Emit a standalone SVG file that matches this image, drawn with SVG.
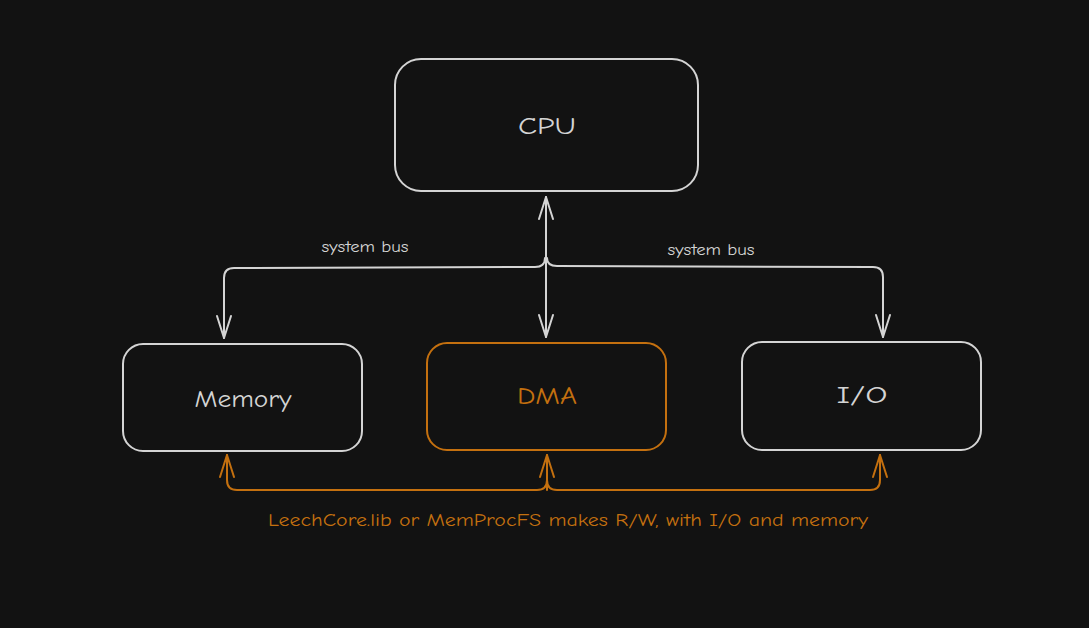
<svg xmlns="http://www.w3.org/2000/svg" width="1089" height="628" viewBox="0 0 1089 628">
<style>
.box{fill:none;stroke:#d4d4d4;stroke-width:2}
.obox{fill:none;stroke:#c4700f;stroke-width:2}
.lbl{font-family:"Comic Neue","Liberation Sans",sans-serif;fill:#d4d4d4;text-anchor:middle}
.olbl{font-family:"Comic Neue","Liberation Sans",sans-serif;fill:#c4700f;text-anchor:middle}
.wire{fill:none;stroke:#d4d4d4;stroke-width:2;stroke-linecap:round;stroke-linejoin:round}
.owire{fill:none;stroke:#c4700f;stroke-width:2;stroke-linecap:round;stroke-linejoin:round}
</style>
<defs>
<marker id="aw" viewBox="-24 -10 26 20" refX="0" refY="0" markerWidth="26" markerHeight="20" markerUnits="userSpaceOnUse" orient="auto-start-reverse">
<path d="M-22,-7 L0,0 L-22,7" fill="none" stroke="#d4d4d4" stroke-width="2" stroke-linecap="round" stroke-linejoin="round"/>
</marker>
<marker id="ao" viewBox="-24 -10 26 20" refX="0" refY="0" markerWidth="26" markerHeight="20" markerUnits="userSpaceOnUse" orient="auto-start-reverse">
<path d="M-22,-7 L0,0 L-22,7" fill="none" stroke="#c4700f" stroke-width="2" stroke-linecap="round" stroke-linejoin="round"/>
</marker>
</defs>
<rect width="1089" height="628" fill="#121212"/>
<g id="connectors">
<path class="wire" d="M546 197 L546 337" marker-start="url(#aw)" marker-end="url(#aw)"/>
<path class="wire" d="M545 258 Q545 267 535 267 L234 268 Q224 268 224 278 L224 338" marker-end="url(#aw)"/>
<path class="wire" d="M547 258 Q547 266 557 266 L873 267 Q883 267 883 277 L883 337" marker-end="url(#aw)"/>
<path class="owire" d="M227 455 L227 480 Q227 490 237 490 L537 490 Q547 490 547 480" marker-start="url(#ao)"/>
<path class="owire" d="M547 455 L547 490" marker-start="url(#ao)"/>
<path class="owire" d="M547 480 Q547 490 557 490 L870 490 Q880 490 880 480 L880 455" marker-end="url(#ao)"/>
<text class="lbl" x="365" y="252" font-size="15" textLength="87" lengthAdjust="spacingAndGlyphs">system bus</text>
<text class="lbl" x="711" y="255" font-size="15" textLength="87" lengthAdjust="spacingAndGlyphs">system bus</text>
<text class="olbl" x="568" y="526" font-size="18" textLength="600" lengthAdjust="spacingAndGlyphs">LeechCore.lib or MemProcFS makes R/W, with I/O and memory</text>
</g>
<g id="cpu">
<rect class="box" x="395" y="59" width="303" height="132" rx="26"/>
<text class="lbl" x="547" y="134" font-size="25" textLength="58" lengthAdjust="spacingAndGlyphs">CPU</text>
</g>
<g id="memory">
<rect class="box" x="123" y="344" width="239" height="107" rx="20"/>
<text class="lbl" x="243" y="407" font-size="25" textLength="97" lengthAdjust="spacingAndGlyphs">Memory</text>
</g>
<g id="dma">
<rect class="obox" x="427" y="343" width="239" height="107" rx="20"/>
<text class="olbl" x="547" y="404" font-size="25" textLength="60" lengthAdjust="spacingAndGlyphs">DMA</text>
</g>
<g id="io">
<rect class="box" x="742" y="342" width="239" height="108" rx="20"/>
<text class="lbl" x="862" y="403" font-size="25" textLength="51" lengthAdjust="spacingAndGlyphs">I/O</text>
</g>
</svg>
